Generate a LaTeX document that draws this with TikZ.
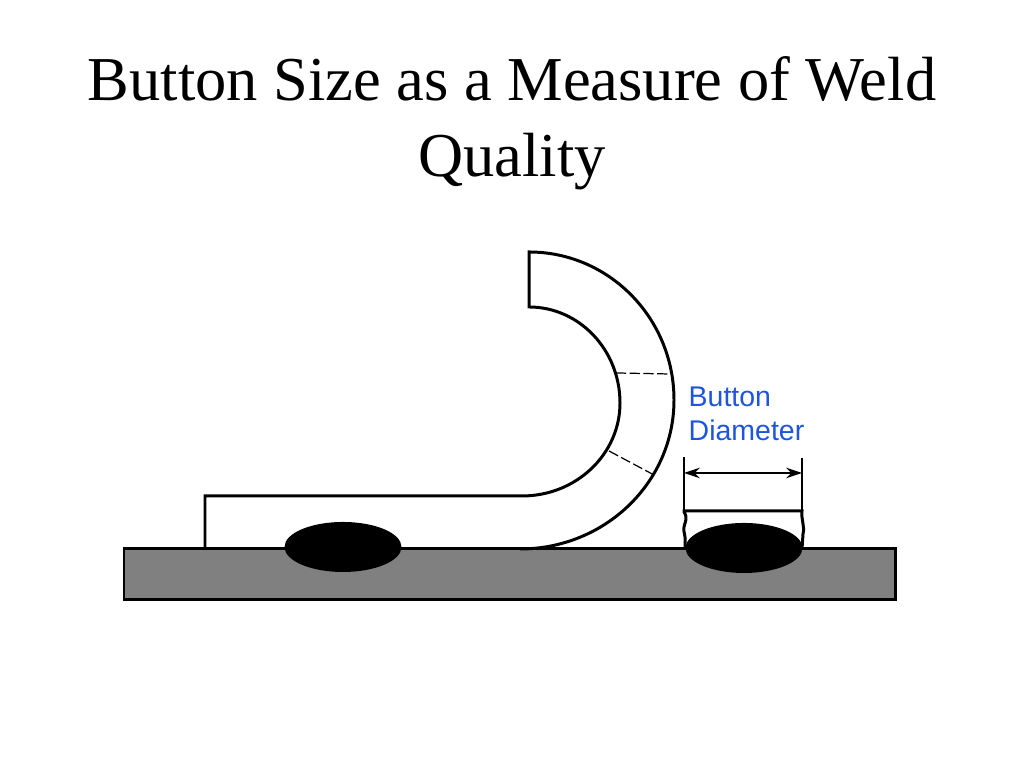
\documentclass[tikz,border=0pt]{standalone}
\usepackage{fontspec}
\usepackage{xcolor}
\setmainfont{Liberation Serif}
\setsansfont{Liberation Sans}
\usetikzlibrary{arrows.meta}
\definecolor{labelblue}{HTML}{1F55DD}
\tikzset{
    outline/.style={black, line width=0.85pt},
    thinline/.style={black, line width=0.35pt},
    bendline/.style={black, line width=0.35pt, dash pattern=on 2.9pt off 1pt}
}

\begin{document}
\begin{tikzpicture}[x=0.01cm, y=0.01cm]

    \useasboundingbox (0,0) rectangle (1024,768);

    % Title
    \node[font=\fontsize{17.76}{21.6}\selectfont, align=center] (title) at (512,645) {Button Size as a Measure of Weld\\Quality};

    % Base plate
    \draw[outline, fill=black!50] (124,168) rectangle (895,219);

    % Peeled strip
    \draw[outline] (205,219) -- (205,272) -- (522,272)
        arc[start angle=-90, end angle=0, x radius=98, y radius=93]
        arc[start angle=0, end angle=90, x radius=91, y radius=96] -- (529,516)
        arc[start angle=90, end angle=0, x radius=145, y radius=148]
        arc[start angle=0, end angle=-90, x radius=154, y radius=149] -- (520,219);

    % Bend lines
    \draw[bendline] (616,395) -- (669,394);
    \draw[bendline] (609,317) -- (654,293);

    % Remaining stub
    \draw[outline] (685,219) -- (685,226) .. controls (686,232) and (683,236) .. (684,241)
        .. controls (685,246) and (688,250) .. (684,256) -- (684,257) -- (802,257)
        .. controls (801,248) and (805,242) .. (803,234) -- (802,219);

    % Weld buttons
    \fill (343,221) ellipse[x radius=58.5, y radius=25];
    \fill (744,220) ellipse[x radius=58.5, y radius=25];

    % Dimension
    \coordinate (dimleft) at (684,295);
    \coordinate (dimright) at (802,295);
    \draw[thinline] (684,257) -- (684,311);
    \draw[thinline] (802,257) -- (802,310);
    \draw[thinline, {Stealth[length=4.5pt,width=3pt,inset=1.5pt]}-{Stealth[length=4.5pt,width=3pt,inset=1.5pt]}] (dimleft) -- (dimright);

    % Label
    \node[font=\sffamily\fontsize{8.1}{9.68}\selectfont, text=labelblue, align=left, anchor=west, inner sep=0pt] (diameter) at (688,354) {Button\\Diameter};

\end{tikzpicture}
\end{document}
